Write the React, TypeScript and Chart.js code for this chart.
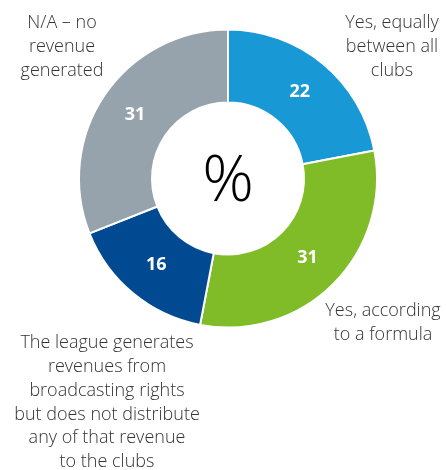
import React, { useEffect, useRef } from "react";
import { Chart, registerables } from "chart.js";

Chart.register(...registerables);

const categories = [
  ["Yes, equally", "between all", "clubs"],
  ["Yes, according", "to a formula"],
  ["The league generates", "revenues from", "broadcasting rights", "but does not distribute", "any of that revenue", "to the clubs"],
  ["N/A – no", "revenue", "generated"],
];
const values = [22, 31, 16, 31];
const colors = ["#1898D5", "#80BC28", "#014A92", "#97A3AC"];
const centerText = "%";

const FONT = "'Open Sans', 'Noto Sans', sans-serif";

const labelsPlugin = {
  id: "customLabels",
  afterDatasetsDraw(chart: any) {
    const { ctx, chartArea } = chart;
    const meta = chart.getDatasetMeta(0);
    const cx = (chartArea.left + chartArea.right) / 2;
    const cy = (chartArea.top + chartArea.bottom) / 2;
    ctx.save();
    // values in slices
    ctx.fillStyle = "#ffffff";
    ctx.font = `bold 18px ${FONT}`;
    ctx.textAlign = "center";
    ctx.textBaseline = "middle";
    meta.data.forEach((arc: any, i: number) => {
      const p = arc.getCenterPoint();
      ctx.fillText(String(values[i]), p.x, p.y);
    });
    // center text
    ctx.fillStyle = "#000000";
    ctx.font = `300 64px ${FONT}`;
    ctx.fillText(centerText, cx, cy + 4);
    // outside labels
    ctx.fillStyle = "#333333";
    ctx.font = `300 18px ${FONT}`;
    const lh = 23.8;
    const anchors = [
      { x: cx + 164, y: 23 },
      { x: cx + 155, y: 311 },
      { x: cx - 121, y: 343 },
      { x: cx - 166, y: 23 },
    ];
    categories.forEach((lines, i) => {
      const a = anchors[i];
      lines.forEach((line, j) => {
        ctx.fillText(line, a.x, a.y + j * lh);
      });
    });
    ctx.restore();
  },
};

export default function App() {
  const ref = useRef<HTMLCanvasElement>(null);
  useEffect(() => {
    const chart = new Chart(ref.current!, {
      type: "doughnut",
      data: {
        labels: categories.map((l) => l.join(" ")),
        datasets: [
          {
            data: values,
            backgroundColor: colors,
            borderColor: "#ffffff",
            borderWidth: 2,
          },
        ],
      },
      options: {
        animation: false,
        responsive: false,
        cutout: "51%",
        layout: { padding: { left: 78, right: 68, top: 28, bottom: 141 } },
        plugins: {
          legend: { display: false },
          tooltip: { enabled: false },
        },
      },
      plugins: [labelsPlugin],
    });
    return () => chart.destroy();
  }, []);
  return (
    <div style={{ position: "fixed", left: 0, top: 0, width: 446, height: 470, background: "#fff" }}>
      <canvas ref={ref} width={446} height={470} style={{ width: 446, height: 470 }} />
    </div>
  );
}
